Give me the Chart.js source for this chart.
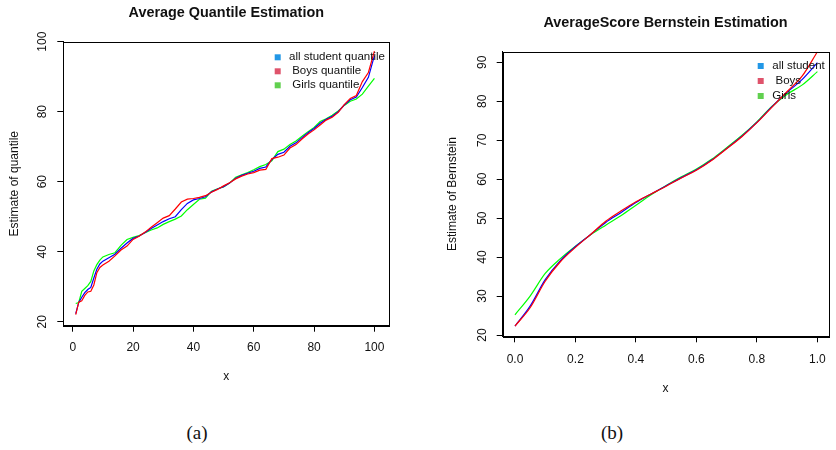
<!DOCTYPE html>
<html>
<head>
<meta charset="utf-8">
<script src="https://cdn.jsdelivr.net/npm/chart.js@4/dist/chart.umd.min.js"></script>
<style>
  body { margin: 0; background: #fff; width: 836px; height: 450px; position: relative; overflow: hidden; }
  canvas { position: absolute; top: 0; }
  #quantileChart { left: 0; }
  #bernsteinChart { left: 418px; }
  .caption { position: absolute; top: 422px; font-family: "Liberation Serif", "DejaVu Serif", serif; font-size: 19px; color: #111; transform: translateX(-50%); }
</style>
</head>
<body>
<canvas id="quantileChart" width="418" height="400"></canvas>
<canvas id="bernsteinChart" width="418" height="400"></canvas>
<div class="caption" style="left:197px">(a)</div>
<div class="caption" style="left:612px">(b)</div>
<script>
// --- datos (a): cuantiles promedio ---
const qX = [1,2,3,4,5,6,7,8,9,10,12,14,16,18,20,22,24,26,28,30,32,34,36,38,40,42,44,46,48,50,
  52,54,56,58,60,62,64,66,68,70,72,74,76,78,80,82,84,86,88,90,92,94,96,98,100];
const qAll = [22.3,25.5,27.0,28.3,29.2,29.8,32.5,35.0,36.5,37.3,38.3,39.3,41.0,42.5,43.8,44.5,45.5,46.6,47.6,48.6,
  49.4,50.0,52.0,53.8,54.8,55.2,55.7,57.1,57.9,58.6,59.6,61.0,61.8,62.4,63.0,63.8,64.2,66.3,67.8,68.4,
  70.1,71.1,72.6,74.0,75.2,76.7,77.8,78.7,80.0,81.9,83.4,84.2,86.9,89.8,96.0];
const qBoys = [22.0,25.6,26.0,27.5,28.5,28.7,30.5,34.0,35.5,36.2,37.3,38.8,40.5,41.6,43.5,44.4,45.6,47.0,48.3,49.6,
  50.3,52.2,54.2,55.0,55.2,55.5,56.0,57.0,57.8,58.8,59.7,60.8,61.6,62.2,62.6,63.3,63.5,66.6,67.0,67.6,
  69.6,70.6,72.2,73.6,74.8,76.2,77.6,78.4,79.8,82.0,83.8,84.6,88.6,91.2,97.3];
const qGirls = [25.2,25.5,28.7,29.5,30.3,31.5,34.5,36.3,37.6,38.5,39.2,39.7,41.8,43.5,44.1,44.6,45.4,46.2,46.8,47.8,
  48.6,49.3,50.2,52.0,53.5,55.0,55.3,57.3,58.0,58.5,59.6,61.3,62.0,62.6,63.4,64.3,64.9,66.0,68.6,69.3,
  70.6,71.6,73.0,74.3,75.5,77.2,78.0,79.0,80.2,81.8,83.0,83.6,85.0,87.3,89.5];
const qXTicks = [0, 20, 40, 60, 80, 100];
const qYTicks = [20, 40, 60, 80, 100];
const qLabels = ['all student quantile', ' Boys quantile', ' Girls quantile'];

// --- datos (b): estimación de Bernstein ---
const bX = [0,0.05,0.1,0.15,0.2,0.25,0.3,0.35,0.4,0.45,0.5,0.55,0.6,0.65,0.7,0.75,0.8,0.85,0.9,0.95,1.0];
const bAll = [22.3,27.4,34.2,39.1,42.7,45.8,48.9,51.4,54.0,56.2,58.3,60.4,62.4,64.9,67.9,71.0,74.6,78.6,82.3,85.6,89.9];
const bBoys = [22.3,27.0,33.8,38.8,42.5,45.8,49.2,51.8,54.2,56.2,58.2,60.3,62.3,64.8,67.8,70.9,74.5,78.5,82.5,86.5,92.7];
const bGirls = [25.2,30.0,35.8,39.6,42.8,45.7,48.2,50.6,53.3,56.0,58.4,60.6,62.6,65.1,68.1,71.2,74.7,78.7,81.8,84.2,87.6];
const bXTicks = [0, 0.2, 0.4, 0.6, 0.8, 1.0];
const bYTicks = [20, 30, 40, 50, 60, 70, 80, 90];
const bLabels = ['all student', ' Boys', 'Girls'];

const lineColors = ['#0000FF', '#FF0000', '#00FF00'];
const keyColors = ['#2297E6', '#DF536B', '#61D04F'];
const FONT = '"Liberation Sans", Arial, Helvetica, sans-serif';

function pts(xs, ys) { return xs.map((x, i) => ({ x: x, y: ys[i] })); }

// caja alrededor del área de trazado + leyenda estilo R
const rBox = {
    id: 'rBox',
    afterDraw(chart, args, opts) {
        const a = chart.chartArea;
        const ctx = chart.ctx;
        ctx.save();
        ctx.strokeStyle = '#000';
        ctx.lineWidth = 1;
        ctx.strokeRect(Math.round(a.left) + 0.5, Math.round(a.top) + 0.5,
            Math.round(a.right - a.left), Math.round(a.bottom - a.top));
        ctx.font = '11.5px ' + FONT;
        ctx.textBaseline = 'middle';
        ctx.textAlign = 'left';
        opts.labels.forEach(function(lab, i) {
            const y = opts.y + i * opts.step;
            ctx.fillStyle = opts.colors[i];
            ctx.fillRect(opts.x - 3, y - 3, 6, 6);
            ctx.fillStyle = '#111';
            ctx.fillText(lab, opts.textX, y);
        });
        ctx.restore();
    }
};

function makeChart(el, cfg) {
    return new Chart(el, {
        type: 'line',
        data: {
            datasets: [
                { label: cfg.labels[0], data: pts(cfg.x, cfg.all), borderColor: lineColors[0], order: 1 },
                { label: cfg.labels[1], data: pts(cfg.x, cfg.boys), borderColor: lineColors[1], order: 0 },
                { label: cfg.labels[2], data: pts(cfg.x, cfg.girls), borderColor: lineColors[2], order: 2 }
            ].map(function(d) {
                return Object.assign(d, {
                    borderWidth: 1.2, pointRadius: 0, fill: false,
                    tension: cfg.smooth ? 0.4 : 0,
                    cubicInterpolationMode: cfg.smooth ? 'monotone' : 'default'
                });
            })
        },
        options: {
            responsive: false,
            animation: false,
            layout: { padding: cfg.padding },
            plugins: {
                legend: { display: false },
                tooltip: { enabled: false },
                title: {
                    display: true, text: cfg.title, fullSize: false, color: '#111',
                    font: { family: FONT, size: 14.4, weight: 'bold' },
                    padding: cfg.titlePad
                },
                rBox: cfg.legend
            },
            scales: {
                x: {
                    type: 'linear', min: cfg.xMin, max: cfg.xMax,
                    afterBuildTicks: function(ax) { ax.ticks = cfg.xTicks.map(v => ({ value: v })); },
                    afterFit: function(ax) { ax.height = 60; },
                    border: { display: true, color: '#000', width: 1 },
                    grid: { drawOnChartArea: false, drawTicks: true, tickLength: 6, tickColor: '#000', tickWidth: 1 },
                    ticks: { autoSkip: false, maxRotation: 0, color: '#111', padding: cfg.xPad,
                        font: { family: FONT, size: 12 }, callback: cfg.xFmt },
                    title: { display: true, text: 'x', color: '#111', font: { family: FONT, size: 12 },
                        padding: { top: 0, bottom: cfg.xTitlePad } }
                },
                y: {
                    type: 'linear', min: cfg.yMin, max: cfg.yMax,
                    afterBuildTicks: function(ax) { ax.ticks = cfg.yTicks.map(v => ({ value: v })); },
                    afterFit: function(ax) { ax.width = cfg.yWidth; },
                    border: { display: true, color: '#000', width: 1 },
                    grid: { drawOnChartArea: false, drawTicks: true, tickLength: 6, tickColor: '#000', tickWidth: 1 },
                    ticks: { autoSkip: false, minRotation: 90, maxRotation: 90, crossAlign: 'center',
                        color: '#111', padding: cfg.yPad, font: { family: FONT, size: 12 } },
                    title: { display: true, text: cfg.yTitle, color: '#111', font: { family: FONT, size: 12 },
                        padding: { top: 7.8, bottom: 0 } }
                }
            }
        },
        plugins: [rBox]
    });
}

// --- (a) Average Quantile Estimation ---
makeChart(document.getElementById('quantileChart'), {
    x: qX, all: qAll, boys: qBoys, girls: qGirls, labels: qLabels, smooth: false,
    title: 'Average Quantile Estimation',
    titlePad: { top: 4.7, bottom: 19.7 },
    padding: { left: 0, right: 28.7, top: 0, bottom: 14.3 },
    xMin: -3.12, xMax: 104.93, yMin: 18.86, yMax: 100,
    xTicks: qXTicks, yTicks: qYTicks, xFmt: v => String(v),
    xPad: 8.8, xTitlePad: 1.5, yWidth: 63.3, yPad: 4.3,
    yTitle: 'Estimate of quantile',
    legend: { labels: qLabels, colors: keyColors, x: 277.7, y: 57.3, step: 14, textX: 289 }
});

// --- (b) AverageScore Bernstein Estimation ---
makeChart(document.getElementById('bernsteinChart'), {
    x: bX, all: bAll, boys: bBoys, girls: bGirls, labels: bLabels, smooth: true,
    title: 'AverageScore Bernstein Estimation',
    titlePad: { top: 14.7, bottom: 19.7 },
    padding: { left: 20, right: 6.7, top: 0, bottom: 3.7 },
    xMin: -0.0406, xMax: 1.0362, yMin: 19.67, yMax: 92.72,
    xTicks: bXTicks, yTicks: bYTicks, xFmt: v => Number(v).toFixed(1),
    xPad: 10, xTitlePad: 0, yWidth: 64.7, yPad: 7.3,
    yTitle: 'Estimate of Bernstein',
    legend: { labels: bLabels, colors: keyColors, x: 342.7, y: 66, step: 15, textX: 354.3 }
});
</script>
</body>
</html>
